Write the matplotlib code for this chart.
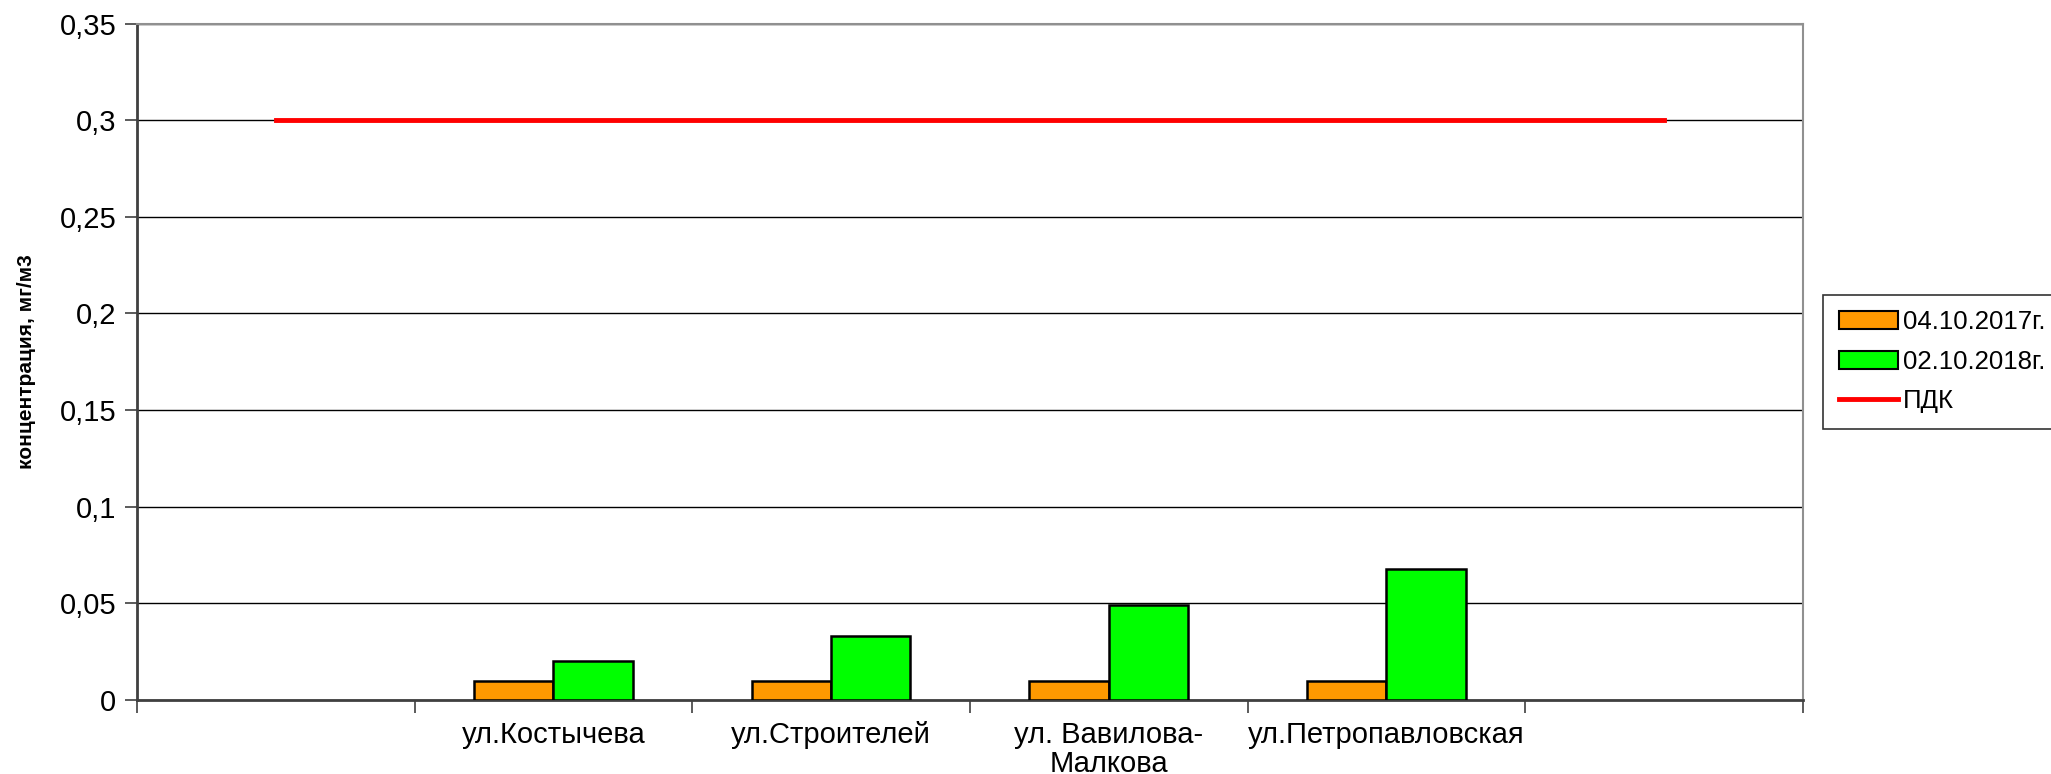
import numpy as np
import matplotlib.pyplot as plt
from matplotlib.patches import Patch
from matplotlib.lines import Line2D

# --- данные ---
categories = ["", "ул.Костычева", "ул.Строителей", "ул. Вавилова-\nМалкова", "ул.Петропавловская", ""]
conc_2017 = [np.nan, 0.01, 0.01, 0.01, 0.01, np.nan]
conc_2018 = [np.nan, 0.02, 0.033, 0.049, 0.068, np.nan]
pdk = [0.3, 0.3, 0.3, 0.3, 0.3, 0.3]
series_labels = ["04.10.2017г.", "02.10.2018г.", "ПДК"]
yticks = [0, 0.05, 0.1, 0.15, 0.2, 0.25, 0.3, 0.35]
ytick_labels = ["0", "0,05", "0,1", "0,15", "0,2", "0,25", "0,3", "0,35"]

plt.rcParams['font.family'] = ['Liberation Sans', 'DejaVu Sans']
narrow = ['Liberation Sans Narrow', 'Liberation Sans', 'DejaVu Sans']

fig = plt.figure(figsize=(20.51, 7.74), dpi=100)
ax = fig.add_axes([0.0668, 0.0956, 0.8122, 0.874])

x = np.arange(len(categories))
w = 1 / 3.5
ax.bar(x - w / 2, conc_2017, w, color='#ff9900', edgecolor='black', linewidth=1.8, zorder=3)
ax.bar(x + w / 2, conc_2018, w, color='#00ff00', edgecolor='black', linewidth=1.8, zorder=3)
ax.plot(x, pdk, color='#ff0000', linewidth=3.5, zorder=4)

ax.set_xlim(-0.5, len(categories) - 0.5)
ax.set_ylim(0, 0.35)
ax.set_yticks(yticks)
ax.set_yticklabels(ytick_labels, fontsize=21)
ax.grid(axis='y', color='black', linewidth=1.0, zorder=0)

ax.set_xticks(x)
ax.set_xticklabels(categories, fontsize=21, family=narrow, linespacing=1.05)
ax.set_xticks(np.arange(-0.5, len(categories)), minor=True)
ax.tick_params(axis='x', which='major', length=0, pad=15)
ax.tick_params(axis='x', which='minor', length=9, width=1.2, color='#404040')
ax.tick_params(axis='y', length=9, width=1.2, color='#404040', pad=6)

ax.set_ylabel("концентрация, мг/м3", fontsize=15, fontweight='bold', family=narrow, labelpad=17)

for s in ['top', 'right']:
    ax.spines[s].set_color('#909090')
    ax.spines[s].set_linewidth(1.5)
ax.spines['left'].set_color('#404040')
ax.spines['left'].set_linewidth(2)
ax.spines['bottom'].set_color('#404040')
ax.spines['bottom'].set_linewidth(2)

handles = [
    Patch(facecolor='#ff9900', edgecolor='black', linewidth=1.5),
    Patch(facecolor='#00ff00', edgecolor='black', linewidth=1.5),
    Line2D([0], [0], color='#ff0000', linewidth=3.5),
]
leg = fig.legend(handles, series_labels, loc='upper left', bbox_to_anchor=(0.889, 0.619),
                 fontsize=18.5, frameon=True, fancybox=False, edgecolor='black',
                 handlelength=2.3, handleheight=0.7, handletextpad=0.2, labelspacing=0.6,
                 borderpad=0.6, borderaxespad=0)
leg.get_frame().set_linewidth(1.2)

fig.savefig("out.png", dpi=100)
